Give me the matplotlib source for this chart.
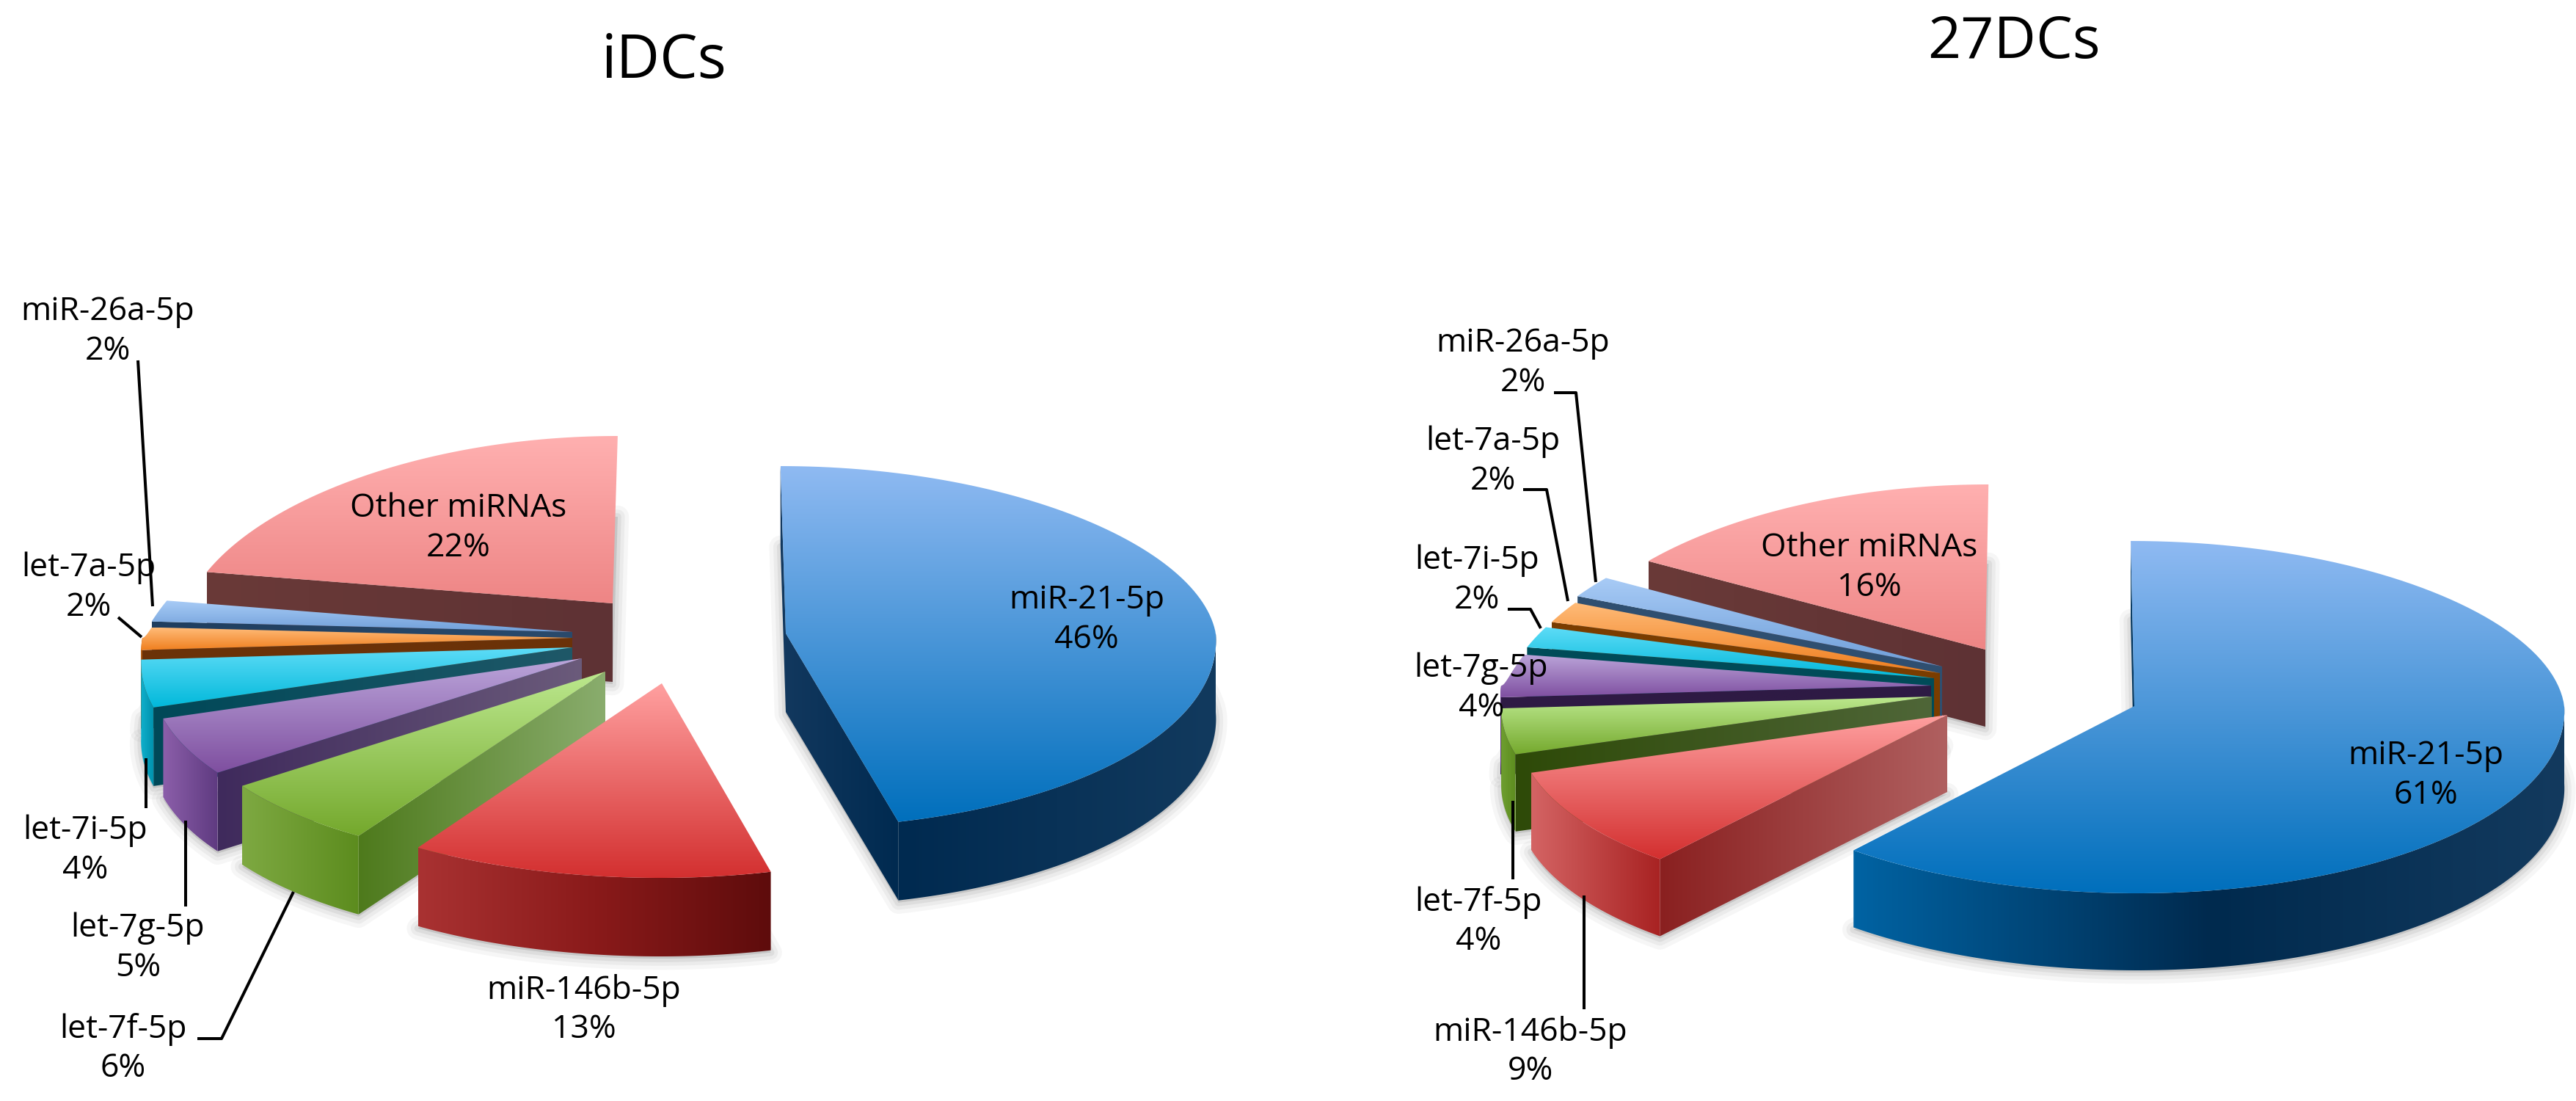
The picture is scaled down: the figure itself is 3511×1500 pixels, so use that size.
#!/usr/bin/python3
import matplotlib
matplotlib.use('Agg')
import matplotlib.pyplot as plt
import numpy as np
from matplotlib.colors import LinearSegmentedColormap, to_rgb
from matplotlib.patches import Polygon

names = ['miR-21-5p', 'miR-146b-5p', 'let-7f-5p', 'let-7g-5p', 'let-7i-5p',
         'let-7a-5p', 'miR-26a-5p', 'Other miRNAs']
values_idc = [46, 13, 6, 5, 4, 2, 2, 22]
values_27dc = [61, 9, 4, 4, 2, 2, 2, 16]

# how far each slice is pulled out of the pie centre
explode_idc = [(121, -17), (-48, 51), (-125, 35), (-157, 17), (-170, 2), (-170, -11), (-170, -19), (-115, -58)]
explode_27dc = [(109, 42), (-146, 54), (-167, 29), (-168, 14), (-164, 4), (-156, -3), (-153, -12), (-94, -35)]

top_colors = [('#8FBAF2', '#006FBC'), ('#FFA0A0', '#D32F2F'), ('#BCE88E', '#74A82C'), ('#BBA5DA', '#7E4E9F'),
              ('#5EDCF7', '#00B8DA'), ('#FFBB78', '#EF7D1C'), ('#A8CBF6', '#6E9ED8'), ('#FFB0B0', '#EE8585')]
arc_idc = [('#002A50', '#123A5E'), ('#A93232', '#8A1A1A', '#5E0C0C'), ('#7EA942', '#5C8C1E'), ('#8C5FAA', '#5E3A80'),
           ('#10B0CC', '#0090AC'), ('#B05A10', '#B05A10'), ('#35618F', '#35618F'), ('#643634', '#643634')]
arc_27dc = [('#0063A3', '#002A4E', '#133A5E'), ('#D46464', '#A82222'), ('#6E9E30', '#5C8C1E'), ('#5E3A80', '#5E3A80'),
            ('#007F98', '#007F98'), ('#B05A10', '#B05A10'), ('#35618F', '#35618F'), ('#643634', '#643634')]
wall_idc = [('#12385E', '#002A50'), ('#7A1515', '#7A1515'), ('#4E7A1C', '#8AAD6E'), ('#3F2A5C', '#6B5B7B'),
            ('#004858', '#1F5868'), ('#6B3208', '#6B3208'), ('#1F3E5F', '#2A4A6C'), ('#6A3A38', '#5E3234')]
wall_27dc = [('#00345C', '#00345C'), ('#8A2020', '#B06060'), ('#2E4A08', '#4F6638'), ('#2E1A44', '#2E1A44'),
             ('#004B58', '#004B58'), ('#7A3D00', '#7A3D00'), ('#2F4F70', '#2F4F70'), ('#6A3A38', '#5E3234')]

# label centres
labels_idc = [(1481, 845), (796, 1376), (168, 1429), (188, 1292), (116, 1159), (121, 801), (147, 452), (625, 720)]
labels_27dc = [(3306, 1057), (2086, 1433), (2015, 1256), (2019, 938), (2013, 791), (2035, 629), (2076, 495), (2548, 774)]

leaders_idc = [[(188, 491), (208, 826)], [(161, 841), (193, 868)], [(199, 1033), (199, 1101)],
               [(253, 1118), (253, 1235)], [(400, 1215), (302, 1415), (269, 1415)]]
leaders_27dc = [[(2118, 535), (2148, 535), (2175, 793)], [(2076, 667), (2108, 667), (2137, 819)],
                [(2055, 830), (2086, 830), (2100, 856)], [(2062, 1091), (2062, 1198)],
                [(2159, 1220), (2159, 1375)]]

plt.rcParams['font.family'] = ['Open Sans', 'DejaVu Sans']
fig = plt.figure(figsize=(35.11, 15), dpi=100)
ax = fig.add_axes([0, 0, 1, 1])


def ramp(poly, colors, vertical, zorder):
    xs, ys = poly[:, 0], poly[:, 1]
    rgb = [to_rgb(c) for c in colors]
    cmap = LinearSegmentedColormap.from_list('r', rgb)
    grad = np.linspace(0, 1, 256).reshape(-1, 1) if vertical else np.linspace(0, 1, 256).reshape(1, -1)
    im = ax.imshow(grad, cmap=cmap, aspect='auto', origin='upper', zorder=zorder,
                   extent=(xs.min(), xs.max() + 1, ys.max() + 1, ys.min()))
    im.set_clip_path(Polygon(poly, transform=ax.transData))


def draw_pie(values, explode, center, ry_back, ry_front, depth, arcs, walls, k=0.06, rx=586):
    edges = np.concatenate([[0], np.cumsum(values)]) * 3.6
    xv, yc = center

    def point(theta, ex, ey):
        t = np.radians(theta)
        c = np.cos(t)
        ry = ry_back if c > 0 else ry_front
        # back left of the pie looks a little narrower, blue part stays round
        r = rx - 35 * np.sqrt(c) if (c > 0 and theta > 180) else rx
        kk = k * 0.5 if 90 < theta < 180 else k
        x = xv + (ex + r * np.sin(t)) * (1 - kk * c)
        y = yc + ey - ry * c
        return x, y

    for i in range(len(values) - 1, -1, -1):
        a, b = edges[i], edges[i + 1]
        ex, ey = explode[i]
        apex = np.array([[xv + ex, yc + ey]])
        arc = np.array([point(t, ex, ey) for t in np.linspace(a, b, 120)])
        top = np.vstack([apex, arc])
        z = 3 + (len(values) - i) * 2

        # soft shadow under the slice
        bottom = top + [0, depth + 3]
        for lw, alpha in [(22, 0.07), (14, 0.09), (7, 0.12)]:
            ax.add_patch(Polygon(bottom, closed=True, fc='#808080', ec='#808080', lw=lw, alpha=alpha,
                                 joinstyle='round', zorder=2))

        # flat cut faces
        if 180 <= a < 360:
            c = np.array([point(a, ex, ey)])
            wall = np.vstack([apex, c, c + [0, depth], apex + [0, depth]])
            ramp(wall, walls[i], False, z)
        if 0 < b <= 180:
            c = np.array([point(b, ex, ey)])
            wall = np.vstack([apex, c, c + [0, depth], apex + [0, depth]])
            ramp(wall, walls[i], False, z)
        if a == 0:
            c = np.array([point(0, ex, ey)])
            wall = np.vstack([apex, c, c + [0, depth], apex + [0, depth]])
            ax.add_patch(Polygon(wall, closed=True, fc=walls[i][0], ec='none', zorder=z))

        # rounded outside wall
        lo, hi = max(a, 90), min(b, 270)
        if lo < hi:
            front = np.array([point(t, ex, ey) for t in np.linspace(lo, hi, 120)])
            ramp(np.vstack([front, front[::-1] + [0, depth]]), arcs[i], False, z)

        ramp(top, top_colors[i], True, z + 1)


def draw_labels(values, places, leaders):
    for name, val, (x, y) in zip(names, values, places):
        ax.text(x, y, '%s\n%d%%' % (name, val), ha='center', va='center', fontsize=32,
                linespacing=1.28, color='black', zorder=40)
    for line in leaders:
        xs, ys = zip(*line)
        ax.plot(xs, ys, color='black', lw=2.9, zorder=39, solid_capstyle='butt')


draw_pie(values_idc, explode_idc, (950, 880), 228, 265, 107, arc_idc, wall_idc)
draw_pie(values_27dc, explode_27dc, (2800, 920), 225, 255, 105, arc_27dc, wall_27dc, k=0.045)
draw_labels(values_idc, labels_idc, leaders_idc)
draw_labels(values_27dc, labels_27dc, leaders_27dc)

ax.text(905, 85, 'iDCs', ha='center', va='center', fontsize=59, zorder=40)
ax.text(2745, 58, '27DCs', ha='center', va='center', fontsize=57, zorder=40)

ax.set_xlim(0, 3511)
ax.set_ylim(1500, 0)
ax.axis('off')
fig.savefig('out.png', dpi=100, facecolor='white')
